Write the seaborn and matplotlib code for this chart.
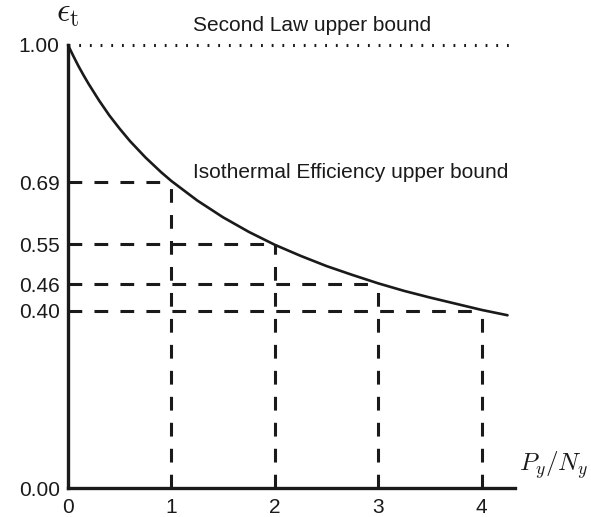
import matplotlib
matplotlib.use("Agg")
import matplotlib.pyplot as plt
import numpy as np
import pandas as pd
import seaborn as sns

# Isothermal efficiency curve
ratio = [0.0, 0.05, 0.1, 0.15, 0.2, 0.3, 0.4, 0.5, 0.6, 0.75, 0.9, 1.0, 1.25,
         1.5, 1.75, 2.0, 2.25, 2.5, 2.75, 3.0, 3.25, 3.5, 3.75, 4.0, 4.25]
efficiency = [1.0, 0.976, 0.953, 0.932, 0.912, 0.875, 0.841, 0.811, 0.783,
              0.746, 0.713, 0.693, 0.649, 0.611, 0.578, 0.549, 0.524, 0.501,
              0.481, 0.462, 0.445, 0.430, 0.416, 0.402, 0.390]

# Marked points
mark_x = [1, 2, 3, 4]
mark_y = [0.69, 0.55, 0.46, 0.40]
second_law = 1.0

xticks = [0, 1, 2, 3, 4]
yticks = [0.00, 0.40, 0.46, 0.55, 0.69, 1.00]

sns.set_style("white")
plt.rcParams["font.family"] = ["Liberation Sans", "DejaVu Sans"]
plt.rcParams["mathtext.fontset"] = "cm"

df = pd.DataFrame({"ratio": ratio, "efficiency": efficiency})

fig = plt.figure(figsize=(5.91, 5.17), dpi=100)
ax = fig.add_axes([0.115, 0.056, 0.756, 0.857])

sns.lineplot(data=df, x="ratio", y="efficiency", ax=ax, color="#1a1a1a",
             linewidth=1.9, clip_on=False)

dash = (0, (4.5, 4))
for xv, yv in zip(mark_x, mark_y):
    ax.plot([0, xv], [yv, yv], color="#1a1a1a", linewidth=2.2, linestyle=dash)
    ax.plot([xv, xv], [0, yv], color="#1a1a1a", linewidth=2.2, linestyle=dash)

ax.plot([0, 4.3], [second_law, second_law], color="#1a1a1a", linewidth=2.2,
        linestyle=(0, (0.6, 2.9)), clip_on=False)

ax.set_xlim(0, 4.32)
ax.set_ylim(0, 1.0)
ax.set_xticks(xticks)
ax.set_xticklabels([str(t) for t in xticks])
ax.set_yticks(yticks)
ax.set_yticklabels([f"{t:.2f}" for t in yticks])
ax.tick_params(axis="both", direction="inout", length=8, width=2.2,
               labelsize=15, color="#1a1a1a", labelcolor="#1a1a1a", pad=2)
ax.tick_params(axis="x", length=10, pad=2)

for side in ["top", "right"]:
    ax.spines[side].set_visible(False)
for side in ["left", "bottom"]:
    ax.spines[side].set_linewidth(2.4)
    ax.spines[side].set_color("#1a1a1a")

ax.set_xlabel("")
ax.set_ylabel("")

ax.text(1.21, 1.045, "Second Law upper bound", fontsize=15, color="#1a1a1a",
        va="center", ha="left")
ax.text(1.21, 0.713, "Isothermal Efficiency upper bound", fontsize=15,
        color="#1a1a1a", va="center", ha="left")
ax.text(0.0, 1.07, r"$\epsilon_{\rm t}$", fontsize=24, color="#1a1a1a",
        ha="center", va="center")
ax.text(4.36, 0.052, r"$P_y/N_y$", fontsize=18, color="#1a1a1a",
        ha="left", va="center")

fig.savefig("out.png", dpi=100)
